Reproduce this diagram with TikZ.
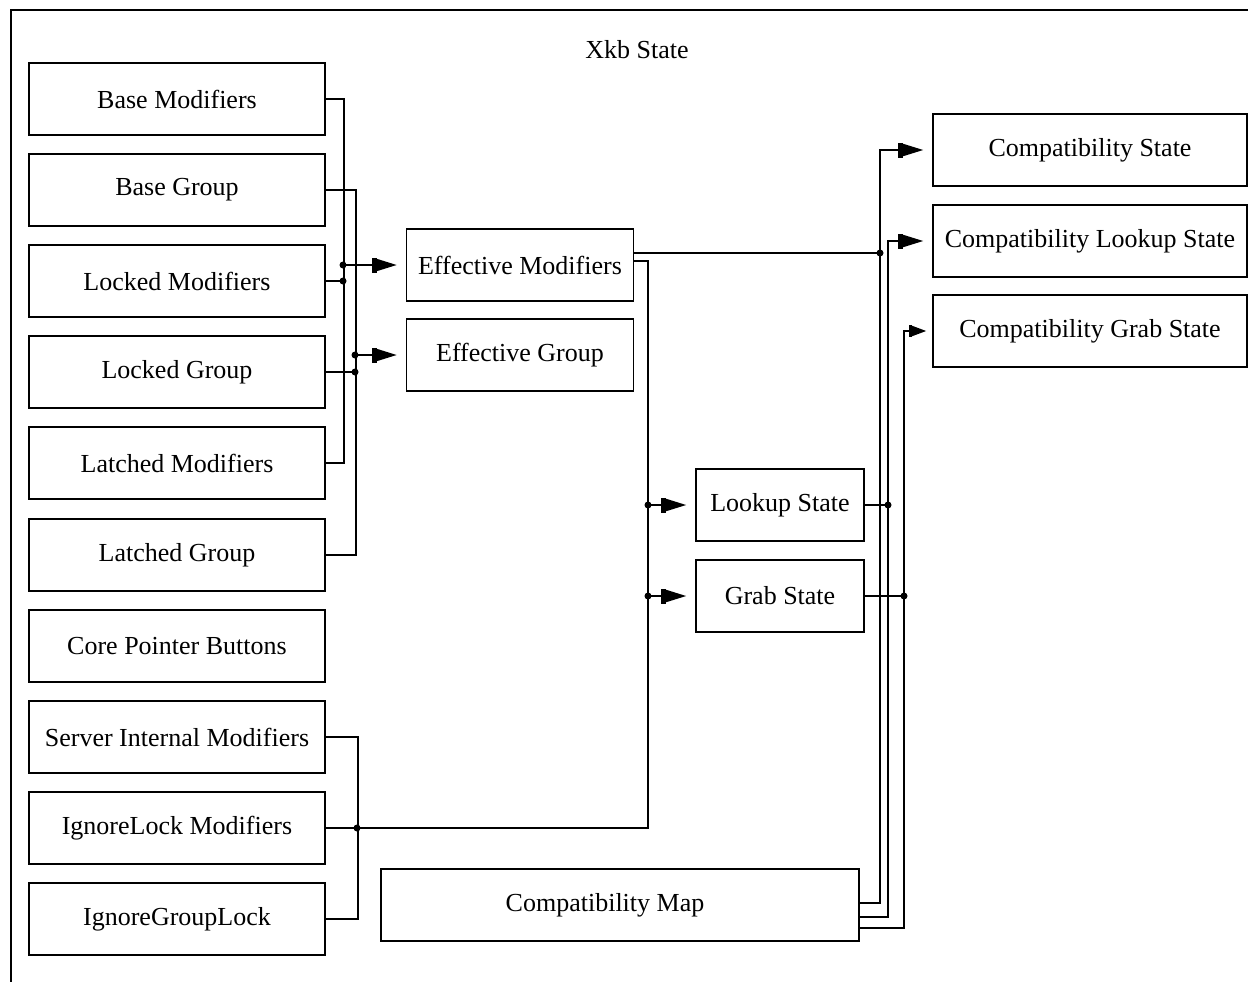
\documentclass[tikz,border=0pt]{standalone}
\usepackage{fontspec}
\setmainfont{Liberation Serif}
\usetikzlibrary{arrows.meta}

\begin{document}
\begin{tikzpicture}[x=1pt,y=-1pt,line width=1.6pt,
    state box/.style={draw,minimum height=72pt,inner sep=0pt,font=\fontsize{26}{30}\selectfont},
    left box/.style={state box,minimum width=296pt},
    flow/.style={-{Rectangle[length=5pt,width=15pt,sep=0pt]Triangle[length=20pt,width=12pt]},shorten >=9pt},
    short flow/.style={-{Rectangle[length=3pt,width=12pt,sep=0pt]Triangle[length=14pt,width=10pt]},shorten >=6pt}]
    \clip (0,0) rectangle (1248,982);
    \draw[line width=2.2pt] (11,10) rectangle (1290,1020);
    \node[font=\fontsize{26}{30}\selectfont] at (637,50) (title) {Xkb State};

    \node[left box] at (177,99) (basemods) {Base Modifiers};
    \node[left box] at (177,190) (basegroup) {Base Group};
    \node[left box] at (177,281) (lockedmods) {Locked Modifiers};
    \node[left box] at (177,372) (lockedgroup) {Locked Group};
    \node[left box] at (177,463) (latchedmods) {Latched Modifiers};
    \node[left box] at (177,555) (latchedgroup) {Latched Group};
    \node[left box] at (177,646) (corebuttons) {Core Pointer Buttons};
    \node[left box] at (177,737) (internalmods) {Server Internal Modifiers};
    \node[left box] at (177,828) (ignorelockmods) {IgnoreLock Modifiers};
    \node[left box] at (177,919) (ignoregrouplock) {IgnoreGroupLock};

    \node[state box,minimum width=227pt] at (520,265) (effmods) {Effective Modifiers};
    \node[state box,minimum width=227pt] at (520,355) (effgroup) {Effective Group};
    \node[state box,minimum width=168pt] at (780,505) (lookup) {Lookup State};
    \node[state box,minimum width=168pt] at (780,596) (grab) {Grab State};
    \node[state box,minimum width=478pt] at (620,905) (compatmap) {\hspace*{-30pt}Compatibility Map};

    \node[state box,minimum width=314pt] at (1090,150) (compatstate) {Compatibility State};
    \node[state box,minimum width=314pt] at (1090,241) (compatlookup) {Compatibility Lookup State};
    \node[state box,minimum width=314pt] at (1090,331) (compatgrab) {Compatibility Grab State};

    \coordinate (modbus) at (343,265);
    \coordinate (grpbus) at (355,355);
    \coordinate (intbus) at (357,828);
    \coordinate (effbus) at (648,505);
    \coordinate (stbus) at (880,253);
    \coordinate (lkbus) at (888,505);
    \coordinate (gbbus) at (904,596);

    % modifiers and group
    \draw (basemods.east) -- ++(18,0) |- (latchedmods.east);
    \draw (lockedmods.east) -- (lockedmods.east -| modbus);
    \draw[flow] (modbus) -- (effmods.west);
    \draw (basegroup.east) -- ++(30,0) |- (latchedgroup.east);
    \draw (lockedgroup.east) -- (lockedgroup.east -| grpbus);
    \draw[flow] (grpbus) -- (effgroup.west);

    % lookup and grab state
    \draw (internalmods.east) -- ++(32,0) |- (ignoregrouplock.east);
    \draw ([yshift=4pt]effmods.east) -| (effbus |- ignorelockmods.east) -- (ignorelockmods.east);
    \draw[flow] (effbus) -- (lookup.west);
    \draw[flow] (effbus |- grab.west) -- (grab.west);

    % compatibility state
    \draw ([yshift=12pt]effmods.east) -- (stbus);
    \draw[flow] ([yshift=2pt]compatmap.east) -| (stbus |- compatstate.west) -- (compatstate.west);
    \draw (lookup.east) -- (lkbus);
    \draw[flow] ([yshift=-12pt]compatmap.east) -| (lkbus |- compatlookup.west) -- (compatlookup.west);
    \draw (grab.east) -- (gbbus);
    \draw[short flow] ([yshift=-23pt]compatmap.east) -| (gbbus |- compatgrab.west) -- (compatgrab.west);

    \fill (modbus) circle (3.5pt) (lockedmods.east -| modbus) circle (3.5pt)
          (grpbus) circle (3.5pt) (lockedgroup.east -| grpbus) circle (3.5pt)
          (intbus) circle (3.5pt) (effbus) circle (3.5pt) (effbus |- grab.west) circle (3.5pt)
          (stbus) circle (3.5pt) (lkbus) circle (3.5pt) (gbbus) circle (3.5pt);
\end{tikzpicture}
\end{document}
